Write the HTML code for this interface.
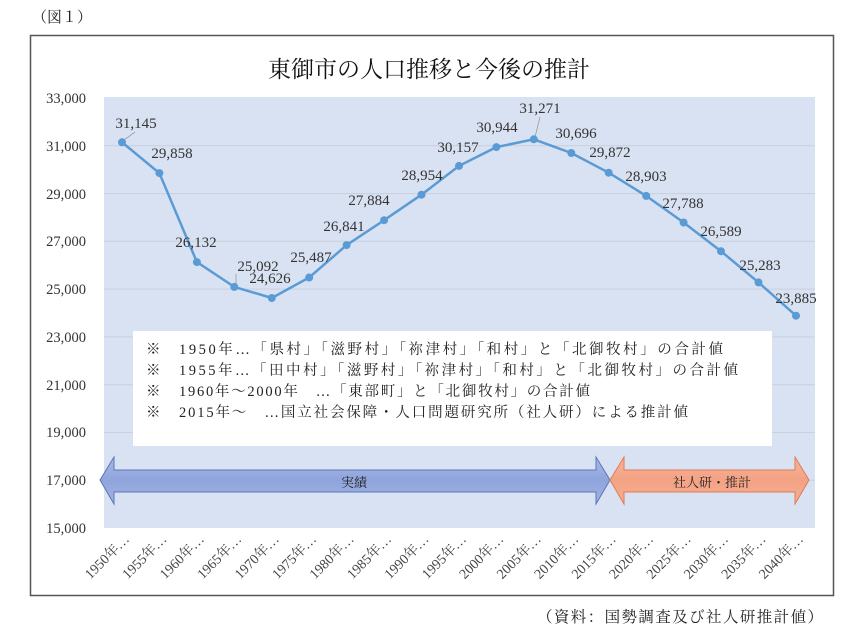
<!DOCTYPE html>
<html><head><meta charset="utf-8"><style>
body{margin:0;background:#fff;}
svg{display:block;}
text{font-family:"Liberation Serif","Noto Serif CJK SC","Noto Sans CJK JP",serif;}
</style></head><body>
<svg width="850" height="636" viewBox="0 0 850 636" xmlns="http://www.w3.org/2000/svg">
<text x="32" y="22" font-size="15" fill="#222">（図１）</text>
<rect x="30.5" y="35.5" width="803" height="560" fill="#fff" stroke="#555" stroke-width="1.5"/>
<text x="429" y="77" font-size="23" text-anchor="middle" fill="#111">東御市の人口推移と今後の推計</text>
<rect x="104" y="97" width="711" height="431" fill="#d9e2f2"/>
<g stroke="#c9cfdb" stroke-width="1">
<line x1="104" x2="815" y1="145.8" y2="145.8"/><line x1="104" x2="815" y1="193.6" y2="193.6"/>
<line x1="104" x2="815" y1="241.3" y2="241.3"/><line x1="104" x2="815" y1="289.1" y2="289.1"/>
<line x1="104" x2="815" y1="336.9" y2="336.9"/><line x1="104" x2="815" y1="384.7" y2="384.7"/>
<line x1="104" x2="815" y1="432.4" y2="432.4"/><line x1="104" x2="815" y1="480.2" y2="480.2"/>
</g>
<g font-size="14.5" fill="#333" text-anchor="end">
<text x="86" y="103">33,000</text><text x="86" y="151">31,000</text><text x="86" y="199">29,000</text>
<text x="86" y="246">27,000</text><text x="86" y="294">25,000</text><text x="86" y="342">23,000</text>
<text x="86" y="390">21,000</text><text x="86" y="437">19,000</text><text x="86" y="485">17,000</text>
<text x="86" y="533">15,000</text>
</g>
<rect x="133" y="331" width="639" height="115" fill="#fff"/>
<g font-size="14.5" fill="#222">
<text x="146" y="354">※</text><text x="179" y="354" textLength="544" lengthAdjust="spacing">1950年…「県村」「滋野村」「祢津村」「和村」と「北御牧村」の合計値</text>
<text x="146" y="375">※</text><text x="179" y="375" textLength="559" lengthAdjust="spacing">1955年…「田中村」「滋野村」「祢津村」「和村」と「北御牧村」の合計値</text>
<text x="146" y="396">※</text><text x="179" y="396" textLength="411" lengthAdjust="spacing">1960年～2000年　…「東部町」と「北御牧村」の合計値</text>
<text x="146" y="417">※</text><text x="179" y="417" textLength="509" lengthAdjust="spacing">2015年～　…国立社会保障・人口問題研究所（社人研）による推計値</text>
</g>
<defs>
<linearGradient id="bg" x1="0" y1="0" x2="0" y2="1"><stop offset="0" stop-color="#a9b9e3"/><stop offset="0.5" stop-color="#8fa4dc"/><stop offset="1" stop-color="#a3b4e0"/></linearGradient>
<linearGradient id="og" x1="0" y1="0" x2="0" y2="1"><stop offset="0" stop-color="#f6b49a"/><stop offset="0.5" stop-color="#f4a283"/><stop offset="1" stop-color="#f5b094"/></linearGradient>
</defs>
<polygon points="100,480 114,457 114,470 596,470 596,457 610,480 596,504 596,492 114,492 114,504" fill="url(#bg)" stroke="#5b76b8" stroke-width="1"/>
<text x="354" y="487" font-size="13" text-anchor="middle" fill="#222">実績</text>
<polygon points="610,480 624,457 624,470 795,470 795,457 809,480 795,504 795,492 624,492 624,504" fill="url(#og)" stroke="#e07b55" stroke-width="1"/>
<text x="712" y="487" font-size="13" text-anchor="middle" fill="#222">社人研・推計</text>
<g stroke="#999" stroke-width="0.8">
<line x1="124" y1="140" x2="135" y2="132"/><line x1="236" y1="284" x2="236" y2="274"/>
<line x1="535" y1="137" x2="540" y2="117"/>
</g>
<polyline fill="none" stroke="#5b9bd5" stroke-width="2.5" points="122,142.3 159.4,173.1 196.9,262.1 234.3,286.9 271.8,298 309.2,277.5 346.6,245.1 384.1,220.2 421.5,194.7 459,165.9 496.4,147.1 533.8,139.3 571.3,153 608.7,172.7 646.2,195.9 683.6,222.5 721,251.2 758.5,282.4 796,315.7"/>
<g fill="#5b9bd5">
<circle cx="122" cy="142.3" r="4"/><circle cx="159.4" cy="173.1" r="4"/><circle cx="196.9" cy="262.1" r="4"/><circle cx="234.3" cy="286.9" r="4"/><circle cx="271.8" cy="298" r="4"/><circle cx="309.2" cy="277.5" r="4"/><circle cx="346.6" cy="245.1" r="4"/><circle cx="384.1" cy="220.2" r="4"/><circle cx="421.5" cy="194.7" r="4"/><circle cx="459" cy="165.9" r="4"/><circle cx="496.4" cy="147.1" r="4"/><circle cx="533.8" cy="139.3" r="4"/><circle cx="571.3" cy="153" r="4"/><circle cx="608.7" cy="172.7" r="4"/><circle cx="646.2" cy="195.9" r="4"/><circle cx="683.6" cy="222.5" r="4"/><circle cx="721" cy="251.2" r="4"/><circle cx="758.5" cy="282.4" r="4"/><circle cx="796" cy="315.7" r="4"/>
</g>
<g font-size="15" fill="#333" text-anchor="middle">
<text x="136" y="128">31,145</text><text x="172" y="158">29,858</text><text x="196" y="247">26,132</text>
<text x="258" y="271">25,092</text><text x="270" y="283">24,626</text><text x="311" y="262">25,487</text>
<text x="344" y="231">26,841</text><text x="369" y="205">27,884</text><text x="422" y="180">28,954</text>
<text x="458" y="152">30,157</text><text x="497" y="132">30,944</text><text x="540" y="113">31,271</text>
<text x="576" y="138">30,696</text><text x="610" y="157">29,872</text><text x="646" y="181">28,903</text>
<text x="683" y="208">27,788</text><text x="721" y="236">26,589</text><text x="760" y="270">25,283</text>
<text x="796" y="303">23,885</text>
</g>
<g font-size="14" fill="#444" text-anchor="end">
<text transform="translate(130,540) rotate(-45)">1950年…</text>
<text transform="translate(167.4,540) rotate(-45)">1955年…</text>
<text transform="translate(204.9,540) rotate(-45)">1960年…</text>
<text transform="translate(242.3,540) rotate(-45)">1965年…</text>
<text transform="translate(279.8,540) rotate(-45)">1970年…</text>
<text transform="translate(317.2,540) rotate(-45)">1975年…</text>
<text transform="translate(354.6,540) rotate(-45)">1980年…</text>
<text transform="translate(392.1,540) rotate(-45)">1985年…</text>
<text transform="translate(429.5,540) rotate(-45)">1990年…</text>
<text transform="translate(467,540) rotate(-45)">1995年…</text>
<text transform="translate(504.4,540) rotate(-45)">2000年…</text>
<text transform="translate(541.8,540) rotate(-45)">2005年…</text>
<text transform="translate(579.3,540) rotate(-45)">2010年…</text>
<text transform="translate(616.7,540) rotate(-45)">2015年…</text>
<text transform="translate(654.2,540) rotate(-45)">2020年…</text>
<text transform="translate(691.6,540) rotate(-45)">2025年…</text>
<text transform="translate(729,540) rotate(-45)">2030年…</text>
<text transform="translate(766.5,540) rotate(-45)">2035年…</text>
<text transform="translate(804,540) rotate(-45)">2040年…</text>
</g>
<text x="537" y="622" font-size="15.5" fill="#222" textLength="286" lengthAdjust="spacing">（資料：国勢調査及び社人研推計値）</text>
</svg>
</body></html>
